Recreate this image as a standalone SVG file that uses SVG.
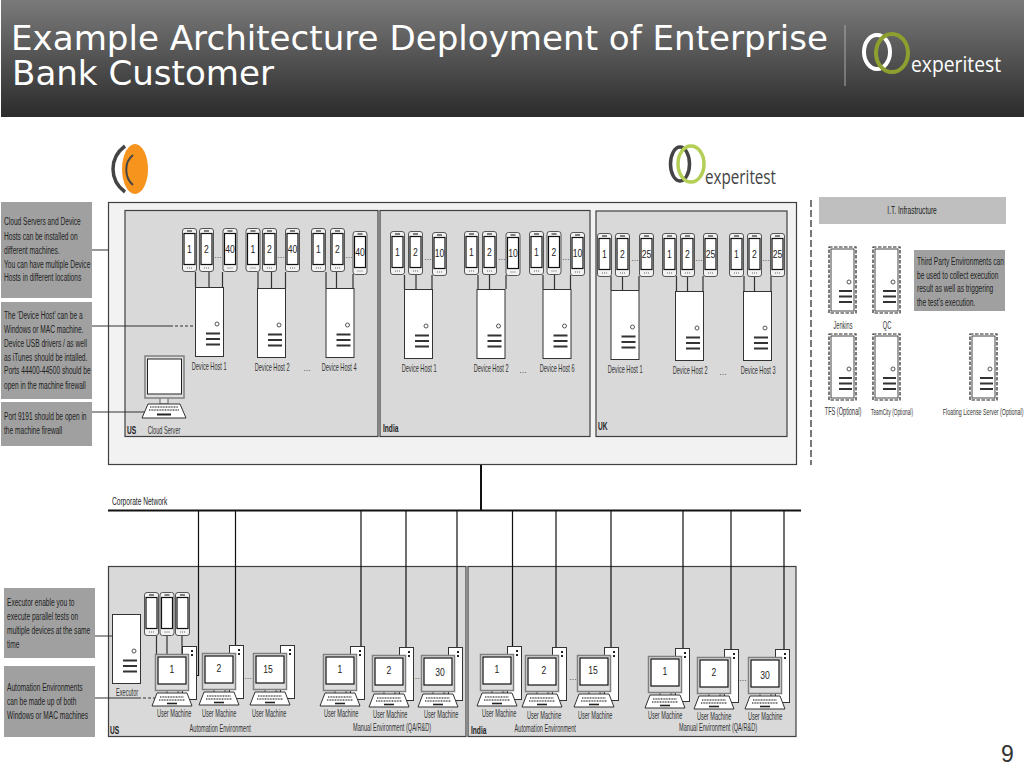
<svg xmlns="http://www.w3.org/2000/svg" width="1024" height="768" viewBox="0 0 1024 768">
<style>
text{font-family:"Liberation Sans",Arial,sans-serif;fill:#222;transform-box:fill-box}
.t{font-size:10px;text-anchor:middle;fill:#333;transform-origin:50% 50%;transform:scaleX(.56)}
.note{font-size:10px;transform-origin:0 50%;transform:scaleX(.66)}
.c{font-size:10px;text-anchor:middle;transform-origin:50% 50%;transform:scaleX(.66)}
.n{font-size:11px;text-anchor:middle;transform-origin:50% 50%;transform:scaleX(.78)}
.b{font-size:11px;font-weight:bold;transform-origin:0 50%;transform:scaleX(.6)}
.dots{font-size:9px;text-anchor:middle;fill:#555}
.w{fill:none;stroke:#333;stroke-width:1.2}
.k{fill:none;stroke:#111;stroke-width:1.2}
.box{fill:#d9d9d9;stroke:#404040;stroke-width:1.2}
.nb{fill:#a0a0a0}
.title{font-family:"DejaVu Sans",sans-serif;font-size:33px;fill:#fff}
.brand{font-family:"Open Sans",sans-serif}
</style>
<defs>
<linearGradient id="hd" x1="0" y1="0" x2="0" y2="1"><stop offset="0" stop-color="#7a7a7a"/><stop offset="1" stop-color="#2b2b2b"/></linearGradient>
<g id="phone"><rect x="0.5" y="0.5" width="14" height="43" rx="2.5" fill="#f2f2f2" stroke="#555"/><rect x="2" y="5.5" width="11" height="31" fill="#fff" stroke="#111" stroke-width="1.2"/><rect x="5" y="2.4" width="5" height="1.2" fill="#333"/><path d="M5 40h5" stroke="#666" stroke-dasharray="1 1"/></g>
<g id="barsv"><circle cx="22" cy="37" r="2" fill="#fff" stroke="#555"/><path d="M11 46.5h14M11 52h14M11 57.5h14" stroke="#333" stroke-width="2"/></g>
<g id="host"><rect x="0.5" y="0.5" width="28" height="69" fill="#fff" stroke="#333"/><use href="#barsv"/></g>
<g id="dhost"><rect x="0" y="0" width="27" height="66" fill="#fff" stroke="#222" stroke-width="1.2" stroke-dasharray="3.500 1.500"/><rect x="2" y="2" width="23" height="62" fill="#fff" stroke="#444"/><circle cx="20" cy="35" r="2" fill="#fff" stroke="#555"/><path d="M10 44h13M10 49.5h13M10 55h13" stroke="#333" stroke-width="2"/></g>
<g id="kbd"><path d="M2 0h30l5 13h-40z" fill="#fff" stroke="#333"/><path d="M5 4h24M4 7h26" stroke="#555" stroke-width="1.6" stroke-dasharray="1 .6"/><path d="M12 10.500h10" stroke="#222" stroke-width="1.6"/></g>
<g id="pc"><rect x="27.500" y="-7.500" width="14" height="53" fill="#fff" stroke="#333"/><path d="M36 -3h2M36 1h2" stroke="#222" stroke-width="2"/><rect x="12" y="36" width="11" height="6" fill="#e6e6e6" stroke="#555"/><rect x="0.500" y="0.500" width="33" height="36" fill="#dedede" stroke="#808080" stroke-width="1.500"/><rect x="3" y="3" width="28" height="27" fill="#fff" stroke="#111" stroke-width="1.2"/><use href="#kbd" y="39"/></g>
</defs>

<g id="header">
<rect x="1" y="0" width="1023" height="117" fill="url(#hd)"/>
<text class="title"><tspan x="11" y="50" textLength="817" lengthAdjust="spacingAndGlyphs">Example Architecture Deployment of Enterprise</tspan><tspan x="12" y="85" textLength="262" lengthAdjust="spacingAndGlyphs">Bank Customer</tspan></text>
<path d="M845 25V86" stroke="#aaa"/>
<ellipse cx="877" cy="52" rx="13" ry="17" fill="none" stroke="#fff" stroke-width="4"/>
<ellipse cx="892" cy="53" rx="16" ry="19" fill="none" stroke="#8d9f2e" stroke-width="4"/>
<text class="brand" x="911" y="72" font-size="22" textLength="90" lengthAdjust="spacingAndGlyphs" style="fill:#fff">experitest</text>
</g>

<g id="logo-cloud">
<ellipse cx="135" cy="169" rx="13" ry="25" fill="#f7941e"/>
<path d="M125 146C109 158 109 180 125 192" fill="none" stroke="#444" stroke-width="3.500"/>
<path d="M133 155C124 162 124 177 133 185" fill="none" stroke="#444" stroke-width="2"/>
</g>
<g id="logo-experitest">
<ellipse cx="680" cy="164" rx="9.500" ry="17" fill="none" stroke="#444" stroke-width="3.500"/>
<ellipse cx="691" cy="164" rx="13" ry="18" fill="none" stroke="#b3cf55" stroke-width="3.500"/>
<text class="brand" x="705" y="184" font-size="20" textLength="71" lengthAdjust="spacingAndGlyphs" style="fill:#444">experitest</text>
</g>

<g id="containers">
<rect id="cloud-area" x="108.500" y="202.500" width="688" height="262" fill="#f2f2f2" stroke="#404040" stroke-width="1.200"/>
<g id="region-us-top"><rect class="box" x="125" y="210.500" width="253" height="226"/><text class="b" x="127" y="434">US</text></g>
<g id="region-india-top"><rect class="box" x="380" y="210.500" width="210" height="226"/><text class="b" x="383" y="432">India</text></g>
<g id="region-uk-top"><rect class="box" x="596" y="211" width="191" height="225.500"/><text class="b" x="598" y="430">UK</text></g>
<g id="region-us-bottom"><rect class="box" x="108.500" y="566.500" width="357.500" height="170"/><text class="b" x="110" y="734">US</text></g>
<g id="region-india-bottom"><rect class="box" x="468" y="566.500" width="328" height="170"/><text class="b" x="471" y="734">India</text></g>
<text class="t" x="164" y="434">Cloud Server</text>
<text class="t" x="220" y="732">Automation Environment</text>
<text class="t" x="392" y="731">Manual Environment (QA/R&amp;D)</text>
<text class="t" x="545" y="732">Automation Environment</text>
<text class="t" x="718" y="731">Manual Environment (QA/R&amp;D)</text>
</g>

<g id="connectors">
<path class="w" d="M91 250H108M91 326H170M91 412H145M95 636H112M95 698H138"/>
<path class="w" stroke-dasharray="3 2" d="M170 326H195M138 698H156"/>
<path class="w" d="M195.500 272V287M209 272V287M222.500 272V287M258 272V288M271.500 272V288M285.500 272V288M326 272V288M336.500 272V288M353 274V288"/>
<path class="w" d="M404.500 275V289M416 275V289M432 275V289M478 275V289M489.500 275V289M506 275V289M543 275V289M554.500 275V289M570.500 275V289"/>
<path class="w" d="M611 276V290M622.500 276V290M639 276V290M676.500 276V291M687.500 276V291M703 276V291M744 276V291M754.500 276V291M771 276V291"/>
<path class="w" d="M156.500 636V654M167 636V654M182 636V654"/>
<path d="M108 510.500H801M481 465V510" fill="none" stroke="#111" stroke-width="2"/>
<path class="k" d="M198.500 510V675.500H196M235.500 510V645M361 510V647M406 510V648M457 510V648M512.500 510V648M556 510V648M611 510V648M683 510V649M731 510V650M784 510V650"/>
<path d="M811 200V465" stroke="#222" stroke-width="1.200" stroke-dasharray="7 3"/>
</g>
<text class="note" x="112" y="505" id="corporate-network-label">Corporate Network</text>

<g id="notes">
<g id="note-cloud"><rect class="nb" x="1" y="202" width="91" height="96"/>
<text class="note" x="4" y="225">Cloud Servers and Device</text>
<text class="note" x="4" y="240">Hosts can be installed on</text>
<text class="note" x="4" y="254">different machines.</text>
<text class="note" x="4" y="268">You can have multiple Device</text>
<text class="note" x="4" y="281">Hosts in different locations</text></g>
<g id="note-host"><rect class="nb" x="1" y="302" width="91" height="97"/>
<text class="note" x="4" y="319">The ‘Device Host’ can be a</text>
<text class="note" x="4" y="333">Windows or MAC machine.</text>
<text class="note" x="4" y="347">Device USB drivers / as well</text>
<text class="note" x="4" y="361">as iTunes should be intalled.</text>
<text class="note" x="4" y="374">Ports 44400-44500 should be</text>
<text class="note" x="4" y="389">open in the machine firewall</text></g>
<g id="note-port"><rect class="nb" x="1" y="402" width="91" height="44"/>
<text class="note" x="4" y="420">Port 9191 should be open in</text>
<text class="note" x="4" y="434">the machine firewall</text></g>
<g id="note-executor"><rect class="nb" x="4" y="588" width="91" height="70"/>
<text class="note" x="7" y="606">Executor enable you to</text>
<text class="note" x="7" y="620">execute parallel tests on</text>
<text class="note" x="7" y="634">multiple devices at the same</text>
<text class="note" x="7" y="648">time</text></g>
<g id="note-automation"><rect class="nb" x="4" y="666" width="91" height="71"/>
<text class="note" x="7" y="691">Automation Environments</text>
<text class="note" x="7" y="705">can be made up of both</text>
<text class="note" x="7" y="719">Windows or MAC machines</text></g>
<g id="note-third-party"><rect class="nb" x="914" y="250" width="91" height="61"/>
<text class="note" x="917" y="265">Third Party Environments can</text>
<text class="note" x="917" y="279">be used to collect execution</text>
<text class="note" x="917" y="292">result as well as triggering</text>
<text class="note" x="917" y="306">the test’s execution.</text></g>
<g id="it-infrastructure"><rect x="819" y="197" width="187" height="27" fill="#bfbfbf"/><text class="c" x="912" y="214">I.T. Infrastructure</text></g>
</g>

<g id="cloud-server">
<rect x="160" y="397" width="8" height="7" fill="#e6e6e6" stroke="#666"/>
<rect x="145" y="356" width="39" height="42" fill="#dedede" stroke="#808080" stroke-width="1.500"/>
<rect x="147.500" y="359" width="34" height="35" fill="#fff" stroke="#222"/>
<path d="M148 404h32l6 14h-44z" fill="#fff" stroke="#333"/>
<path d="M150 407h28M149 410h30" stroke="#555" stroke-width="1.600" stroke-dasharray="1 .6"/><path d="M157 414.500h14" stroke="#222" stroke-width="2"/>
</g>

<g id="us-hosts">
<g id="us-p1-1" transform="translate(182,228)"><use href="#phone"/><text class="n" x="7.500" y="25">1</text></g>
<g id="us-p1-2" transform="translate(199,228)"><use href="#phone"/><text class="n" x="7.500" y="25">2</text></g>
<g id="us-p1-3" transform="translate(222.500,228)"><use href="#phone"/><text class="n" x="7.500" y="25">40</text></g>
<text class="dots" x="218" y="258">...</text>
<g id="us-host-1" transform="translate(195,287)"><use href="#host"/></g><text class="t" x="209" y="370">Device Host 1</text>
<g id="us-p2-1" transform="translate(245.500,228)"><use href="#phone"/><text class="n" x="7.500" y="25">1</text></g>
<g id="us-p2-2" transform="translate(262,228)"><use href="#phone"/><text class="n" x="7.500" y="25">2</text></g>
<g id="us-p2-3" transform="translate(285,228)"><use href="#phone"/><text class="n" x="7.500" y="25">40</text></g>
<text class="dots" x="281" y="258">...</text>
<g id="us-host-2" transform="translate(257,288)"><use href="#host"/></g><text class="t" x="272" y="371">Device Host 2</text>
<text class="dots" x="307" y="371">...</text>
<g id="us-p3-1" transform="translate(311,228)"><use href="#phone"/><text class="n" x="7.500" y="25">1</text></g>
<g id="us-p3-2" transform="translate(330,228)"><use href="#phone"/><text class="n" x="7.500" y="25">2</text></g>
<g id="us-p3-3" transform="translate(352.500,231)"><use href="#phone"/><text class="n" x="7.500" y="25">40</text></g>
<text class="dots" x="349" y="258">...</text>
<g id="us-host-4" transform="translate(325.500,288)"><use href="#host"/></g><text class="t" x="339" y="371">Device Host 4</text>
</g>

<g id="india-hosts">
<g id="in-p1-1" transform="translate(390,231)"><use href="#phone"/><text class="n" x="7.500" y="25">1</text></g>
<g id="in-p1-2" transform="translate(408,231)"><use href="#phone"/><text class="n" x="7.500" y="25">2</text></g>
<g id="in-p1-3" transform="translate(432,232)"><use href="#phone"/><text class="n" x="7.500" y="25">10</text></g>
<text class="dots" x="428" y="260">...</text>
<g id="in-host-1" transform="translate(404,289)"><use href="#host"/></g><text class="t" x="419" y="372">Device Host 1</text>
<g id="in-p2-1" transform="translate(464,231)"><use href="#phone"/><text class="n" x="7.500" y="25">1</text></g>
<g id="in-p2-2" transform="translate(482,231)"><use href="#phone"/><text class="n" x="7.500" y="25">2</text></g>
<g id="in-p2-3" transform="translate(505.500,232)"><use href="#phone"/><text class="n" x="7.500" y="25">10</text></g>
<text class="dots" x="502" y="260">...</text>
<g id="in-host-2" transform="translate(476.500,289)"><use href="#host"/></g><text class="t" x="491" y="372">Device Host 2</text>
<text class="dots" x="523" y="373">...</text>
<g id="in-p3-1" transform="translate(529,231)"><use href="#phone"/><text class="n" x="7.500" y="25">1</text></g>
<g id="in-p3-2" transform="translate(546.500,231)"><use href="#phone"/><text class="n" x="7.500" y="25">2</text></g>
<g id="in-p3-3" transform="translate(570,232)"><use href="#phone"/><text class="n" x="7.500" y="25">10</text></g>
<text class="dots" x="566" y="260">...</text>
<g id="in-host-6" transform="translate(542.500,289)"><use href="#host"/></g><text class="t" x="557" y="372">Device Host 6</text>
</g>

<g id="uk-hosts">
<g id="uk-p1-1" transform="translate(597,233)"><use href="#phone"/><text class="n" x="7.500" y="25">1</text></g>
<g id="uk-p1-2" transform="translate(615,233)"><use href="#phone"/><text class="n" x="7.500" y="25">2</text></g>
<g id="uk-p1-3" transform="translate(639,233)"><use href="#phone"/><text class="n" x="7.500" y="25">25</text></g>
<text class="dots" x="635" y="261">...</text>
<g id="uk-host-1" transform="translate(610.500,290)"><use href="#host"/></g><text class="t" x="625" y="373">Device Host 1</text>
<g id="uk-p2-1" transform="translate(662,233)"><use href="#phone"/><text class="n" x="7.500" y="25">1</text></g>
<g id="uk-p2-2" transform="translate(680,233)"><use href="#phone"/><text class="n" x="7.500" y="25">2</text></g>
<g id="uk-p2-3" transform="translate(703,233)"><use href="#phone"/><text class="n" x="7.500" y="25">25</text></g>
<text class="dots" x="699" y="261">...</text>
<g id="uk-host-2" transform="translate(675,291)"><use href="#host"/></g><text class="t" x="690" y="374">Device Host 2</text>
<text class="dots" x="723" y="375">...</text>
<g id="uk-p3-1" transform="translate(729,233)"><use href="#phone"/><text class="n" x="7.500" y="25">1</text></g>
<g id="uk-p3-2" transform="translate(747,233)"><use href="#phone"/><text class="n" x="7.500" y="25">2</text></g>
<g id="uk-p3-3" transform="translate(770,233)"><use href="#phone"/><text class="n" x="7.500" y="25">25</text></g>
<text class="dots" x="766" y="261">...</text>
<g id="uk-host-3" transform="translate(743,291)"><use href="#host"/></g><text class="t" x="758" y="374">Device Host 3</text>
</g>

<g id="third-party">
<g id="jenkins" transform="translate(829,247)"><use href="#dhost"/><text class="t" x="14" y="82">Jenkins</text></g>
<g id="qc" transform="translate(873,247)"><use href="#dhost"/><text class="t" x="14" y="82">QC</text></g>
<g id="tfs" transform="translate(829,334)"><use href="#dhost"/><text class="t" x="14" y="81">TFS (Optional)</text></g>
<g id="teamcity" transform="translate(873,334)"><use href="#dhost"/><text class="t" x="19" y="81" style="font-size:8.500px">TeamCity (Optional)</text></g>
<g id="floating-license" transform="translate(970,334)"><use href="#dhost"/><text class="t" x="13" y="81" style="font-size:9.500px">Floating License Server (Optional)</text></g>
</g>

<g id="executor-group">
<g id="ex-phone-1" transform="translate(144,592)"><use href="#phone"/></g>
<g id="ex-phone-2" transform="translate(159.500,592)"><use href="#phone"/></g>
<g id="ex-phone-3" transform="translate(175,592)"><use href="#phone"/></g>
<g id="executor" transform="translate(112,614)"><use href="#host"/><text class="t" x="15" y="82">Executor</text></g>
</g>

<g id="us-machines">
<g id="us-auto-1" transform="translate(155,654)"><use href="#pc"/><text class="n" x="17" y="19">1</text><text class="t" x="19" y="63">User Machine</text></g>
<g id="us-auto-2" transform="translate(202,653)"><use href="#pc"/><text class="n" x="17" y="19">2</text><text class="t" x="17" y="64">User Machine</text></g>
<text class="dots" x="248" y="679">...</text>
<g id="us-auto-15" transform="translate(253,653)"><use href="#pc"/><text class="n" x="15" y="20">15</text><text class="t" x="16" y="64">User Machine</text></g>
<g id="us-man-1" transform="translate(323,654)"><use href="#pc"/><text class="n" x="17" y="19">1</text><text class="t" x="18" y="63">User Machine</text></g>
<g id="us-man-2" transform="translate(372,655)"><use href="#pc"/><text class="n" x="17" y="19">2</text><text class="t" x="18" y="63">User Machine</text></g>
<text class="dots" x="416" y="679">...</text>
<g id="us-man-30" transform="translate(421,655)"><use href="#pc"/><text class="n" x="19" y="21">30</text><text class="t" x="20" y="63">User Machine</text></g>
</g>

<g id="india-machines">
<g id="in-auto-1" transform="translate(480,654)"><use href="#pc"/><text class="n" x="17" y="19">1</text><text class="t" x="19" y="63">User Machine</text></g>
<g id="in-auto-2" transform="translate(525,655)"><use href="#pc"/><text class="n" x="19" y="19">2</text><text class="t" x="19" y="64">User Machine</text></g>
<text class="dots" x="573" y="680">...</text>
<g id="in-auto-15" transform="translate(577,655)"><use href="#pc"/><text class="n" x="16" y="19">15</text><text class="t" x="18" y="64">User Machine</text></g>
<g id="in-man-1" transform="translate(648,656)"><use href="#pc"/><text class="n" x="17" y="19">1</text><text class="t" x="17" y="63">User Machine</text></g>
<g id="in-man-2" transform="translate(697,657)"><use href="#pc"/><text class="n" x="17" y="19">2</text><text class="t" x="17" y="63">User Machine</text></g>
<text class="dots" x="743" y="681">...</text>
<g id="in-man-30" transform="translate(748,657)"><use href="#pc"/><text class="n" x="17" y="22">30</text><text class="t" x="17" y="63">User Machine</text></g>
</g>

<text id="page-number" x="1001" y="762" font-size="23" style="fill:#333">9</text>
</svg>
